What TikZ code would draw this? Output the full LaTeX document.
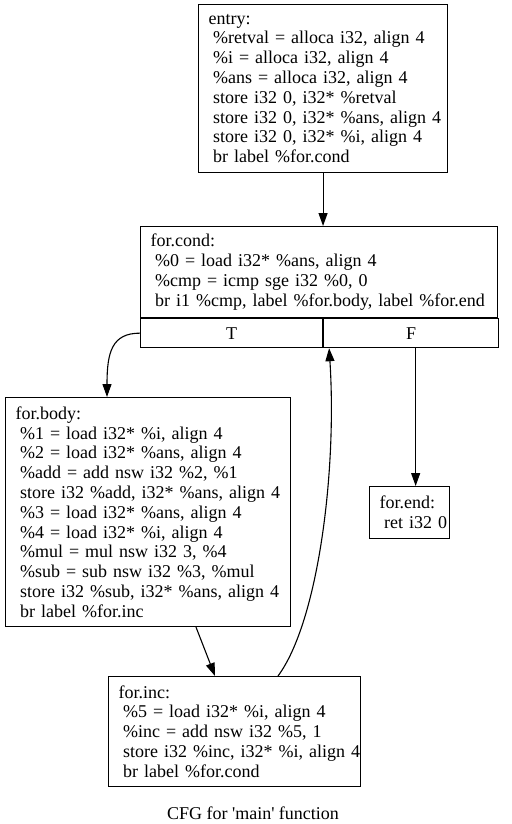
\documentclass[tikz,border=0pt]{standalone}
\usepackage{fontspec}
\setmainfont{Liberation Serif}
\usetikzlibrary{arrows.meta, positioning}
\newcommand{\ind}{\hspace*{0.25em}}
\newcommand{\cfgfont}{\fontsize{18pt}{19.8pt}\selectfont}
\tikzset{
	block/.style={rectangle, draw, line width=1.1pt, anchor=north west, align=left, inner xsep=0pt, inner ysep=0pt, font=\cfgfont, execute at begin node={\leftskip=10pt\rightskip=-30pt plus 1fil}},
	cell/.style={rectangle, draw, line width=1.1pt, anchor=north west, inner sep=0pt, minimum height=29pt, font=\cfgfont},
	edge/.style={-{Triangle[length=13pt, width=9pt]}, line width=1.1pt},
}

\begin{document}
\begin{tikzpicture}[x=1pt, y=-1pt]
	\useasboundingbox (0,0) rectangle (511,824);
	\node[block, text width=249pt, minimum height=168pt] (entry) at (198,4) {entry:\\
		\ind\%retval = alloca i32, align 4\\
		\ind\%i = alloca i32, align 4\\
		\ind\%ans = alloca i32, align 4\\
		\ind store i32 0, i32* \%retval\\
		\ind store i32 0, i32* \%ans, align 4\\
		\ind store i32 0, i32* \%i, align 4\\
		\ind br label \%for.cond};
	\node[block, text width=357pt, minimum height=91pt] (cond) at (140,226) {for.cond:\\
		\ind\%0 = load i32* \%ans, align 4\\
		\ind\%cmp = icmp sge i32 \%0, 0\\
		\ind br i1 \%cmp, label \%for.body, label \%for.end};
	\node[cell, minimum width=182pt] (condT) at (cond.south west) {T};
	\node[cell, minimum width=175pt] (condF) at (condT.north east) {F};
	\node[block, text width=285pt, minimum height=229pt] (body) at (5,397) {for.body:\\
		\ind\%1 = load i32* \%i, align 4\\
		\ind\%2 = load i32* \%ans, align 4\\
		\ind\%add = add nsw i32 \%2, \%1\\
		\ind store i32 \%add, i32* \%ans, align 4\\
		\ind\%3 = load i32* \%ans, align 4\\
		\ind\%4 = load i32* \%i, align 4\\
		\ind\%mul = mul nsw i32 3, \%4\\
		\ind\%sub = sub nsw i32 \%3, \%mul\\
		\ind store i32 \%sub, i32* \%ans, align 4\\
		\ind br label \%for.inc};
	\node[block, text width=252pt, minimum height=110pt] (inc) at (108,676) {for.inc:\\
		\ind\%5 = load i32* \%i, align 4\\
		\ind\%inc = add nsw i32 \%5, 1\\
		\ind store i32 \%inc, i32* \%i, align 4\\
		\ind br label \%for.cond};
	\node[block, text width=80pt, minimum height=52pt] (forend) at (369,486) {for.end:\\
		\ind ret i32 0};
	\node[font=\cfgfont] (title) at (253,813) {CFG for \textquotesingle main\textquotesingle\ function};
	% edges
	\draw[edge] (entry.south) -- (entry.south |- cond.north);
	\draw[edge] (condT.west) .. controls +(-28,0) and +(0,-45) .. ([xshift=102pt]body.north west);
	\draw[edge] ([xshift=4.5pt]condF.south) -- ([xshift=4.5pt]condF.south |- forend.north);
	\draw[edge] ([xshift=191pt]body.south west) -- ([xshift=107pt]inc.north west);
	\draw[edge] ([xshift=170pt]inc.north west) .. controls +(40,-54) and +(8,124) .. ([xshift=6pt]condT.south east);
\end{tikzpicture}
\end{document}
